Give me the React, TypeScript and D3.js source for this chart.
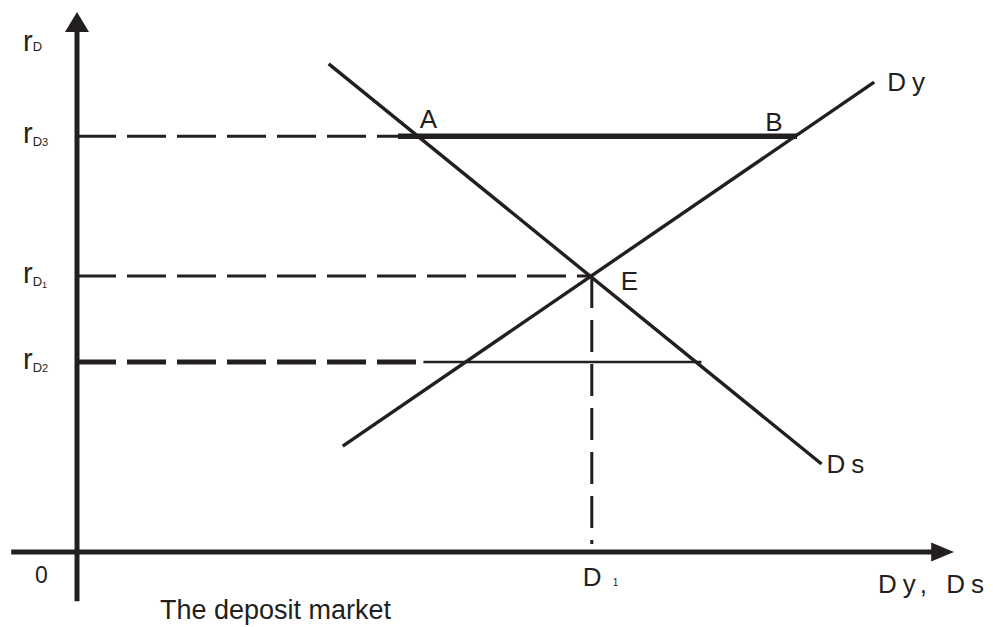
import React, { useRef, useEffect } from "react";
import * as d3 from "d3";

// quantity (x) and rate (y) in chart units, 0..100 on each axis
const supplyCurve: [number, number][] = [[28.7, 90.4], [84.9, 16.3]]; // Ds
const demandCurve: [number, number][] = [[30.3, 19.6], [90.9, 87.0]]; // Dy
const rateNames = ["rD3", "rD1", "rD2"];
const rateValues = [77.0, 51.1, 35.2];
const rateDashEnds = [36.6, 58.7, 38.7];
const equilibrium: [number, number] = [58.7, 51.1];
const segmentAB = [36.6, 82.1];
const segmentRd2 = [39.5, 71.2];
const pointLabels = ["A", "B", "E"];

const W = 993;
const H = 627;
const INK = "#231f20";
const FONT = "'Liberation Sans', Arial, sans-serif";

export default function App() {
  const ref = useRef<SVGSVGElement | null>(null);

  useEffect(() => {
    if (!ref.current) return;
    const svg = d3.select(ref.current);
    svg.selectAll("*").remove();

    const x = d3.scaleLinear().domain([0, 100]).range([77, 954]);
    const y = d3.scaleLinear().domain([0, 100]).range([552, 12]);
    const line = d3
      .line<[number, number]>()
      .x((d) => x(d[0]))
      .y((d) => y(d[1]));

    // axes
    svg.append("line")
      .attr("x1", x(-7.5)).attr("x2", x(97.6))
      .attr("y1", y(0)).attr("y2", y(0))
      .attr("stroke", INK).attr("stroke-width", 5);
    svg.append("path")
      .attr("d", `M${x(100)},${y(0)} L${x(97.4)},${y(0) - 9.5} L${x(97.4)},${y(0) + 9.5} Z`)
      .attr("fill", INK);
    svg.append("line")
      .attr("x1", x(0)).attr("x2", x(0))
      .attr("y1", y(-9.1)).attr("y2", y(96.5))
      .attr("stroke", INK).attr("stroke-width", 5);
    svg.append("path")
      .attr("d", `M${x(0)},${y(100)} L${x(0) - 12},${y(96.3)} L${x(0) + 12},${y(96.3)} Z`)
      .attr("fill", INK);

    // dashed guides to the rate axis
    rateValues.forEach((v, i) => {
      svg.append("line")
        .attr("x1", x(0)).attr("x2", x(rateDashEnds[i]))
        .attr("y1", y(v)).attr("y2", y(v))
        .attr("stroke", INK)
        .attr("stroke-width", i === 2 ? 5 : 3)
        .attr("stroke-dasharray", "39 11");
    });
    svg.append("line")
      .attr("x1", x(equilibrium[0])).attr("x2", x(equilibrium[0]))
      .attr("y1", y(equilibrium[1])).attr("y2", y(1.5))
      .attr("stroke", INK).attr("stroke-width", 3)
      .attr("stroke-dasharray", "32 12");

    // segments AB and at rD2
    svg.append("line")
      .attr("x1", x(segmentAB[0])).attr("x2", x(segmentAB[1]))
      .attr("y1", y(rateValues[0])).attr("y2", y(rateValues[0]))
      .attr("stroke", INK).attr("stroke-width", 5.5);
    svg.append("line")
      .attr("x1", x(segmentRd2[0])).attr("x2", x(segmentRd2[1]))
      .attr("y1", y(rateValues[2])).attr("y2", y(rateValues[2]))
      .attr("stroke", INK).attr("stroke-width", 2.5);

    // curves
    [supplyCurve, demandCurve].forEach((c) => {
      svg.append("path")
        .attr("d", line(c))
        .attr("fill", "none")
        .attr("stroke", INK)
        .attr("stroke-width", 3.4);
    });

    const xAt = (c: [number, number][], v: number) =>
      c[0][0] + ((v - c[0][1]) / (c[1][1] - c[0][1])) * (c[1][0] - c[0][0]);

    const txt = (px: number, py: number, s: string, size = 26, ls = 0) =>
      svg.append("text")
        .attr("x", px).attr("y", py)
        .attr("font-family", FONT)
        .attr("font-size", size)
        .attr("letter-spacing", ls)
        .attr("fill", INK)
        .text(s);

    // point labels
    const aX = xAt(supplyCurve, rateValues[0]);
    const bX = xAt(demandCurve, rateValues[0]);
    txt(x(aX) + 2, y(rateValues[0]) - 8, pointLabels[0]);
    txt(x(bX) - 30, y(rateValues[0]) - 5, pointLabels[1]);
    txt(x(equilibrium[0]) + 29, y(equilibrium[1]) + 14, pointLabels[2]);

    // curve labels
    txt(x(demandCurve[1][0]) + 13, y(demandCurve[1][1]) + 9, "Dy", 26, 6);
    txt(x(supplyCurve[1][0]) + 5, y(supplyCurve[1][1]) + 9, "Ds", 26, 6);

    // axis labels
    txt(35, 583, "0", 23);
    txt(878, 593, "Dy, Ds", 26, 6);
    txt(x(equilibrium[0]) - 9, 586, "D", 26);
    txt(x(equilibrium[0]) + 21, 586, "1", 10);
    txt(160, 619, "The deposit market", 27);

    // rate labels
    const rLabel = (py: number, sub: string, subSize: number, subDy: number, dDy: number) => {
      const t = svg.append("text")
        .attr("x", 23).attr("y", py)
        .attr("font-family", FONT)
        .attr("fill", INK);
      t.append("tspan").attr("font-size", 29).text("r");
      t.append("tspan").attr("font-size", 13).attr("dy", dDy).text("D");
      if (sub) t.append("tspan").attr("font-size", subSize).attr("dy", subDy).text(sub);
    };
    rLabel(51, "", 0, 0, 0);
    rateNames.forEach((n, i) => {
      const py = y(rateValues[i]) + 7;
      const sub = n.slice(2);
      if (sub === "1") rLabel(py, sub, 9, 2, 3);
      else rLabel(py, sub, 11, 0, 3);
    });
  }, []);

  return (
    <svg
      ref={ref}
      width={W}
      height={H}
      viewBox={`0 0 ${W} ${H}`}
      style={{ position: "absolute", left: 0, top: 0, background: "#fff" }}
    />
  );
}
